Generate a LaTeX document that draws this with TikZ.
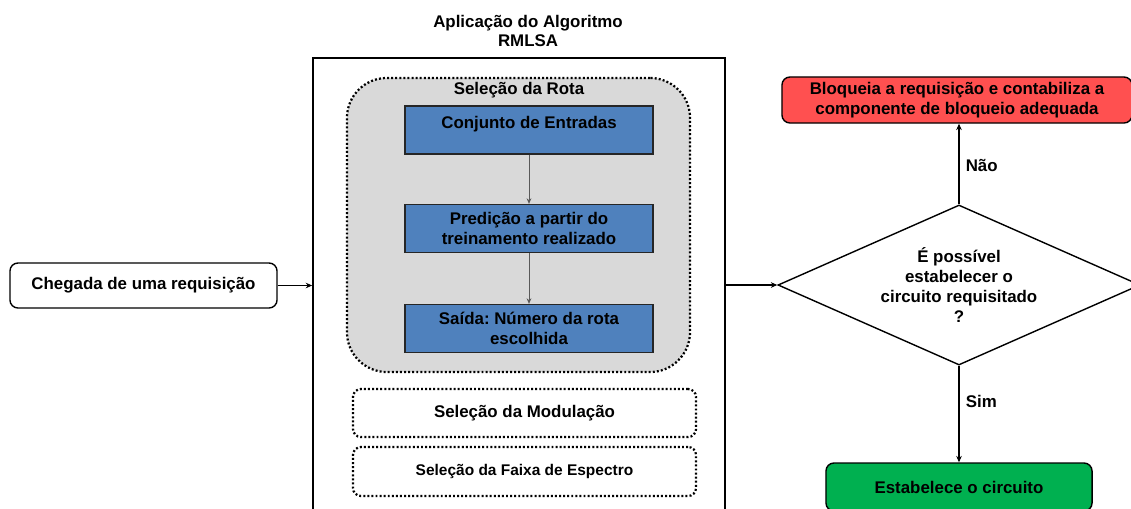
\documentclass[tikz,border=0pt]{standalone}
\usepackage{fontspec}
\setmainfont{Liberation Sans}
\usepackage{xcolor}
\usepackage{tikz}
\usetikzlibrary{shapes.geometric, arrows.meta, positioning, fit, backgrounds, calc}
\frenchspacing

\definecolor{caixaAzul}{HTML}{4F81BD}
\definecolor{caixaCinza}{HTML}{D9D9D9}
\definecolor{caixaVermelha}{HTML}{FF5050}
\definecolor{caixaVerde}{HTML}{00B050}

\begin{document}
\begin{tikzpicture}[x=0.025cm, y=-0.025cm,
    font=\fontsize{12}{14}\selectfont\bfseries,
    caixa/.style={draw, line width=1pt, rounded corners=0.2cm, align=center, inner sep=0pt},
    azul/.style={draw=black!85, line width=0.9pt, fill=caixaAzul, align=center,
        minimum width=6.2cm, minimum height=1.2cm, inner sep=0pt},
    pontilhado/.style={draw, line width=1.6pt, dash pattern=on 1.4pt off 1.5pt,
        rounded corners=0.2cm, align=center, inner sep=0pt},
    seta/.style={-{Stealth[length=1.6mm, width=1.4mm]}, line width=1pt},
    setaInterna/.style={-{Stealth[length=1.4mm, width=1.2mm]}, line width=0.6pt, draw=black!65}]
    \useasboundingbox (0,0) rectangle (1131,508);

    % Entrada
    \node[caixa, minimum width=6.675cm, minimum height=1.125cm] (chegada) at (143.5,285.5) {Chegada de uma requisição};

    % Algoritmo RMLSA
    \node[draw, line width=1.2pt, minimum width=10.3cm, minimum height=12.55cm, inner sep=0pt] (alg) at (519,309) {};
    \node[align=center] (titulo) at (528,31) {Aplicação do Algoritmo\\RMLSA};

    % Selecao da rota
    \node[pontilhado, fill=caixaCinza, rounded corners=1cm, minimum width=8.575cm, minimum height=7.35cm] (rota) at (518.5,225) {};
    \node (rotaTitulo) at (519,90) {Seleção da Rota};
    \node[azul] (entradas) at (529,130) {Conjunto de Entradas\\[-7pt]\strut};
    \node[azul] (predicao) at (529,228.5) {Predição a partir do\\treinamento realizado};
    \node[azul] (saida) at (529,328.5) {Saída: Número da rota\\escolhida};
    \draw[setaInterna] (entradas) -- (predicao);
    \draw[setaInterna] (predicao) -- (saida);

    % Modulacao e espectro
    \node[pontilhado, minimum width=8.575cm, minimum height=1.2cm] (modulacao) at (524.5,413) {Seleção da Modulação};
    \node[pontilhado, minimum width=8.575cm, minimum height=1.225cm, font=\fontsize{11}{13}\selectfont\bfseries] (espectro) at (524.5,471.5) {Seleção da Faixa de Espectro};

    % Decisao
    \node[diamond, draw, line width=1pt, aspect=2.26, minimum width=9.05cm, minimum height=4cm, inner sep=0pt, align=center] (decisao) at (959,285) {É possível\\estabelecer o\\circuito requisitado\\?};
    \node[caixa, fill=caixaVermelha, minimum width=8.75cm, minimum height=1.15cm] (bloqueia) at (957,100) {Bloqueia a requisição e contabiliza a\\componente de bloqueio adequada};
    \node[caixa, fill=caixaVerde, minimum width=6.65cm, minimum height=1.2cm] (estabelece) at (959,487) {Estabelece o circuito};

    % Ligacoes
    \draw[seta] (chegada) -- (chegada -| alg.west);
    \draw[seta] (alg.east |- decisao.west) -- (decisao.west);
    \draw[seta] (decisao.north) -- (decisao.north |- bloqueia.south) node[pos=0.48, right=1pt] {Não};
    \draw[seta] (decisao.south) -- (estabelece.north) node[pos=0.37, right=1pt] {Sim};
\end{tikzpicture}
\end{document}
